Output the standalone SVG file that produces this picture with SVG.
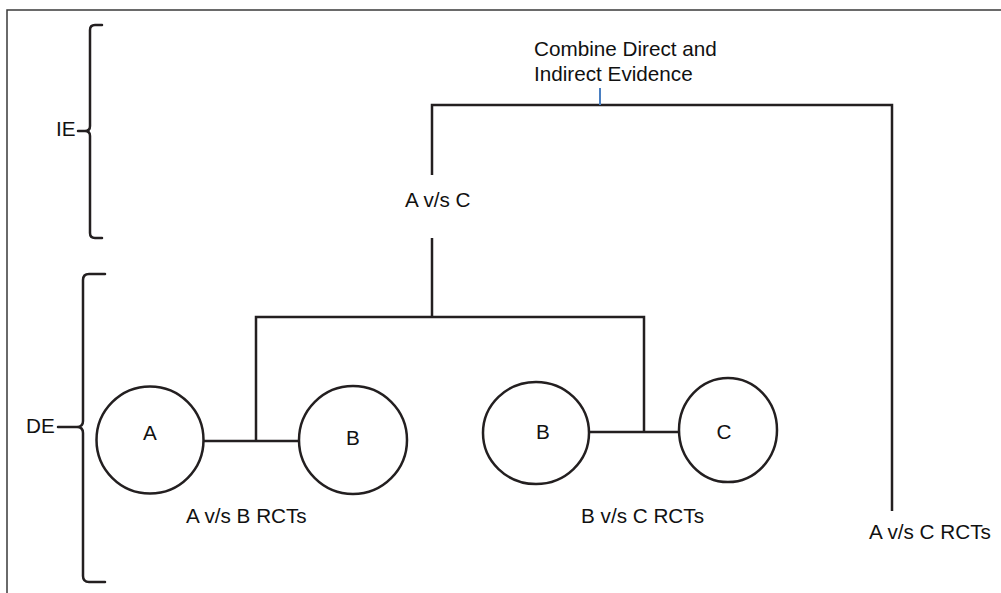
<svg xmlns="http://www.w3.org/2000/svg" width="1001" height="593" viewBox="0 0 1001 593">
<style>
.frame{fill:none;stroke:#3a3a3a;stroke-width:1.5}
.ln{fill:none;stroke:#231f20;stroke-width:2.5;stroke-linejoin:miter}
.br{fill:none;stroke:#231f20;stroke-width:2.5;stroke-linecap:round;stroke-linejoin:round}
.nd{fill:#fff;stroke:#231f20;stroke-width:2.5}
text{font-family:"Liberation Sans",Arial,sans-serif;font-size:20.7px;fill:#111}
.c{text-anchor:middle}
</style>
<rect width="1001" height="593" fill="#fff"/>
<path class="frame" d="M7,593 V10 H1001"/>
<g id="brace-IE">
<path class="br" d="M102,25 H95 Q90,25 90,30 V126 Q90,131 85,131 H78 M85,131 Q90,131 90,136 V233 Q90,238 95,238 H102"/>
<text x="56" y="136">IE</text>
</g>
<g id="brace-DE">
<path class="br" d="M105,274 H89 Q83,274 83,280 V421 Q83,427 77,427 H58 M77,427 Q83,427 83,433 V576 Q83,582 89,582 H105"/>
<text x="26" y="433">DE</text>
</g>
<g id="connectors">
<path class="ln" d="M203,441 H299"/>
<path class="ln" d="M256,441 V317 H644 V432"/>
<path class="ln" d="M590,432 H679"/>
<path class="ln" d="M432,317 V238"/>
<path class="ln" d="M432,175 V105 H892 V511"/>
<path fill="none" stroke="#4a7fc1" stroke-width="2" d="M600,88 V105"/>
</g>
<g id="node-A">
<circle class="nd" cx="150" cy="440" r="53.5"/>
<text class="c" x="150" y="440">A</text>
</g>
<g id="node-B1">
<circle class="nd" cx="353" cy="440" r="54"/>
<text class="c" x="353" y="445">B</text>
</g>
<g id="node-B2">
<ellipse class="nd" cx="536" cy="433" rx="53" ry="51"/>
<text class="c" x="543" y="439">B</text>
</g>
<g id="node-C">
<ellipse class="nd" cx="728" cy="430" rx="49" ry="52"/>
<text class="c" x="724" y="439">C</text>
</g>
<g id="label-AC">
<text x="405" y="207">A v/s C</text>
</g>
<g id="label-combine">
<text x="534" y="56">Combine Direct and</text>
<text x="534" y="81">Indirect Evidence</text>
</g>
<g id="label-ABRCT"><text x="186" y="523">A v/s B RCTs</text></g>
<g id="label-BCRCT"><text x="581" y="523">B v/s C RCTs</text></g>
<g id="label-ACRCT"><text x="869" y="539">A v/s C RCTs</text></g>
</svg>
